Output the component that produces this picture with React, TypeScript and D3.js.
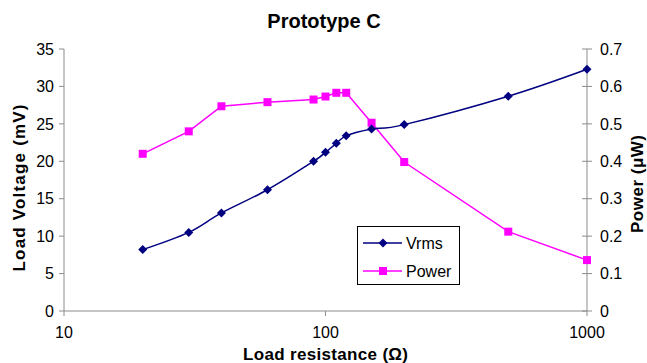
import React from "react";
import * as d3 from "d3";

const resistance = [20, 30, 40, 60, 90, 100, 110, 120, 150, 200, 500, 1000];
const vrms = [8.2, 10.5, 13.1, 16.2, 20.0, 21.2, 22.4, 23.4, 24.3, 24.9, 28.7, 32.3];
const power = [0.42, 0.48, 0.547, 0.558, 0.565, 0.573, 0.583, 0.583, 0.503, 0.398, 0.212, 0.136];
const xTicks = [10, 100, 1000];
const yLeftTicks = [0, 5, 10, 15, 20, 25, 30, 35];
const yRightTicks = [0, 0.1, 0.2, 0.3, 0.4, 0.5, 0.6, 0.7];

const W = 647, H = 363;
const M = { left: 64, right: 60, top: 49, bottom: 52 };
const FONT = "Arial, 'Liberation Sans', sans-serif";
const AXIS = "#8c8c8c";
const NAVY = "#000080";
const MAGENTA = "#ff00ff";

function Diamond({ x, y }: { x: number; y: number }) {
  const r = 4.5;
  return <path d={`M${x},${y - r}L${x + r},${y}L${x},${y + r}L${x - r},${y}Z`} fill={NAVY} />;
}
function Square({ x, y }: { x: number; y: number }) {
  const s = 8;
  return <rect x={x - s / 2} y={y - s / 2} width={s} height={s} fill={MAGENTA} />;
}

export default function App() {
  const x = d3.scaleLog().domain([10, 1000]).range([M.left, W - M.right]);
  const yL = d3.scaleLinear().domain([0, 35]).range([H - M.bottom, M.top]);
  const yR = d3.scaleLinear().domain([0, 0.7]).range([H - M.bottom, M.top]);
  const x0 = M.left, x1 = W - M.right, y0 = H - M.bottom, y1 = M.top;

  const vLine = d3
    .line<number>()
    .x((_, i) => x(resistance[i]))
    .y((d) => yL(d))
    .curve(d3.curveCatmullRom.alpha(0));
  const pLine = d3
    .line<number>()
    .x((_, i) => x(resistance[i]))
    .y((d) => yR(d));

  const fmtR = (d: number) => d.toFixed(1).replace(/^0\.0$/, "0");

  return (
    <svg width={W} height={H} style={{ position: "absolute", left: 0, top: 0, background: "#fff" }} fontFamily={FONT}>
      <rect x={0} y={0} width={W} height={H} fill="#fff" />
      <text x={324} y={28} textAnchor="middle" fontSize={20} fontWeight="bold" fill="#000">Prototype C</text>

      {/* axes */}
      <line x1={x0} x2={x0} y1={y1} y2={y0} stroke={AXIS} strokeWidth={1} />
      <line x1={x1} x2={x1} y1={y1} y2={y0} stroke={AXIS} strokeWidth={1} />
      <line x1={x0} x2={x1} y1={y0} y2={y0} stroke={AXIS} strokeWidth={1} />

      {yLeftTicks.map((t) => (
        <g key={"l" + t}>
          <line x1={x0 - 5} x2={x0} y1={yL(t)} y2={yL(t)} stroke={AXIS} />
          <text x={x0 - 10} y={yL(t)} dy="0.36em" textAnchor="end" fontSize={16} fill="#000">{t}</text>
        </g>
      ))}
      {yRightTicks.map((t) => (
        <g key={"r" + t}>
          <line x1={x1 - 5} x2={x1 + 5} y1={yR(t)} y2={yR(t)} stroke={AXIS} />
          <text x={x1 + 13} y={yR(t)} dy="0.36em" textAnchor="start" fontSize={16} fill="#000">{fmtR(t)}</text>
        </g>
      ))}
      {xTicks.map((t) => (
        <g key={"x" + t}>
          <line x1={x(t)} x2={x(t)} y1={y0} y2={y0 + 5} stroke={AXIS} />
          <text x={x(t)} y={338} textAnchor="middle" fontSize={16} fill="#000">{t}</text>
        </g>
      ))}

      <text x={325.5} y={360} textAnchor="middle" fontSize={17} fontWeight="bold" textLength={165} lengthAdjust="spacing" fill="#000">Load resistance (Ω)</text>
      <text transform={`translate(25,188) rotate(-90)`} textAnchor="middle" fontSize={17} fontWeight="bold" textLength={167} lengthAdjust="spacing" fill="#000">Load Voltage (mV)</text>
      <text transform={`translate(643,184) rotate(-90)`} textAnchor="middle" fontSize={17} fontWeight="bold" textLength={98} lengthAdjust="spacing" fill="#000">Power (μW)</text>

      {/* series */}
      <path d={pLine(power) || ""} fill="none" stroke={MAGENTA} strokeWidth={1.5} />
      <path d={vLine(vrms) || ""} fill="none" stroke={NAVY} strokeWidth={1.5} />
      {power.map((p, i) => (
        <Square key={"p" + i} x={x(resistance[i])} y={yR(p)} />
      ))}
      {vrms.map((v, i) => (
        <Diamond key={"v" + i} x={x(resistance[i])} y={yL(v)} />
      ))}

      {/* legend */}
      <rect x={357.5} y={226.5} width={102} height={58} fill="#fff" stroke="#000" strokeWidth={1} />
      <line x1={363} x2={402} y1={243} y2={243} stroke={NAVY} strokeWidth={1.5} />
      <Diamond x={383} y={243} />
      <text x={406} y={243} dy="0.36em" fontSize={16} fill="#000">Vrms</text>
      <line x1={363} x2={402} y1={271} y2={271} stroke={MAGENTA} strokeWidth={1.5} />
      <Square x={383} y={271} />
      <text x={406} y={271} dy="0.36em" fontSize={16} fill="#000">Power</text>
    </svg>
  );
}
